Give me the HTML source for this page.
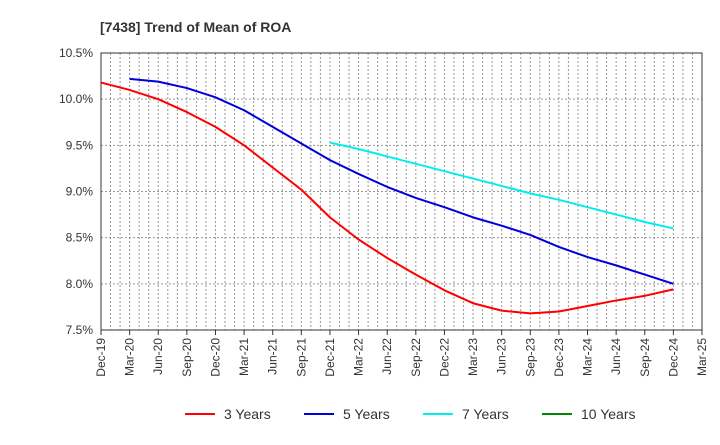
<!DOCTYPE html>
<html><head><meta charset="utf-8"><style>
body{margin:0;background:#fff;font-family:"Liberation Sans",sans-serif}
</style></head><body>
<svg id="chart" width="720" height="440" xmlns="http://www.w3.org/2000/svg">
<text x="100" y="32" font-size="14" font-weight="bold" fill="#333">[7438]  Trend of Mean of ROA</text>
<g id="grid"></g><g id="axes"></g><g id="series"></g><g id="legend"></g>
</svg>
<script>
const xLabels=["Dec-19","Mar-20","Jun-20","Sep-20","Dec-20","Mar-21","Jun-21","Sep-21","Dec-21","Mar-22","Jun-22","Sep-22","Dec-22","Mar-23","Jun-23","Sep-23","Dec-23","Mar-24","Jun-24","Sep-24","Dec-24","Mar-25"];
const yTicks=[7.5,8.0,8.5,9.0,9.5,10.0,10.5];
const seriesNames=["3 Years","5 Years","7 Years","10 Years"];
const seriesColors=["#ff0000","#0000dd","#00eeee","#008800"];
const s3=[10.18,10.1,10.0,9.86,9.70,9.50,9.26,9.02,8.72,8.48,8.28,8.10,7.93,7.79,7.71,7.68,7.70,7.76,7.82,7.87,7.94];
const s5=[null,10.22,10.19,10.12,10.02,9.88,9.70,9.52,9.34,9.19,9.05,8.93,8.83,8.72,8.63,8.53,8.40,8.29,8.20,8.10,8.00];
const s7=[null,null,null,null,null,null,null,null,null,9.53,9.46,9.38,9.30,9.22,9.14,9.06,8.98,8.91,8.83,8.75,8.67,8.60].slice(1);
const s10=[];
const L=101,R=702,T=53,B=330,NS="http://www.w3.org/2000/svg";
const xs=i=>L+i*(R-L)/(xLabels.length-1);
const ys=v=>B-(v-7.5)/3*(B-T);
function mk(t,a,p){const e=document.createElementNS(NS,t);for(const k in a)e.setAttribute(k,a[k]);p.appendChild(e);return e;}
const grid=document.getElementById('grid'),axes=document.getElementById('axes'),ser=document.getElementById('series'),leg=document.getElementById('legend');
for(let m=1;m<(xLabels.length-1)*3;m++){const x=L+m*(R-L)/((xLabels.length-1)*3);
const g=mk('line',{x1:x,x2:x,y1:T,y2:B,stroke:'#999','stroke-dasharray':'2,2','stroke-width':1},grid);

}
yTicks.forEach(v=>{const y=ys(v);
const g=mk('line',{x1:L,x2:R,y1:y,y2:y,stroke:'#999','stroke-dasharray':'2,2'},grid);


const t=mk('text',{x:L-8,y:y+4,'text-anchor':'end','font-size':12,fill:'#333'},axes);t.textContent=v.toFixed(1)+'%';

});
const fr=mk('rect',{x:L,y:T,width:R-L,height:B-T,fill:'none',stroke:'#333'},axes);


xLabels.forEach((l,i)=>{const x=xs(i);
mk('line',{x1:x,x2:x,y1:B,y2:B+5,stroke:'#333'},axes);
const t=mk('text',{x:x+4,y:B+8,'text-anchor':'end','font-size':12,fill:'#333',transform:`rotate(-90 ${x+4} ${B+8})`},axes);t.textContent=l;

});
[s3,s5,s7,s10].forEach((s,k)=>{const pts=[];s.forEach((v,i)=>{if(v!=null)pts.push(xs(i)+','+ys(v));});
if(pts.length){const p=mk('polyline',{points:pts.join(' '),fill:'none',stroke:seriesColors[k],'stroke-width':2,'stroke-linejoin':'round'},ser);

}});
const lx=[185,304,423,542];
seriesNames.forEach((n,k)=>{
const g=mk('g',{},leg);


mk('line',{x1:lx[k],x2:lx[k]+30,y1:414,y2:414,stroke:seriesColors[k],'stroke-width':2},g);
const t=mk('text',{x:lx[k]+39,y:419,'font-size':14,fill:'#333'},g);t.textContent=n;});
</script>
</body></html>
